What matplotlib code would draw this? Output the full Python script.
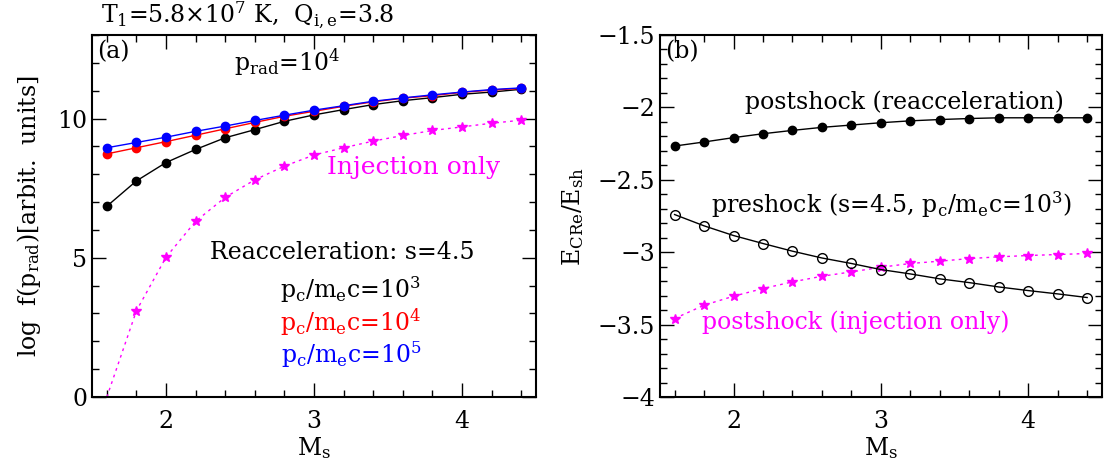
import matplotlib.pyplot as plt
from matplotlib.ticker import MultipleLocator

plt.rcParams['font.family'] = 'DejaVu Serif'
plt.rcParams['mathtext.fontset'] = 'dejavuserif'

# Mach numbers
mach = [1.6, 1.8, 2.0, 2.2, 2.4, 2.6, 2.8, 3.0, 3.2, 3.4, 3.6, 3.8, 4.0, 4.2, 4.4]

# panel (a): log f(p_rad)
f_pc3 = [6.85, 7.76, 8.42, 8.89, 9.31, 9.6, 9.9, 10.13, 10.32, 10.5, 10.64, 10.75, 10.87, 10.95, 11.05]
f_pc4 = [8.73, 8.95, 9.17, 9.4, 9.63, 9.86, 10.08, 10.26, 10.44, 10.6, 10.73, 10.82, 10.94, 11.02, 11.08]
f_pc5 = [8.95, 9.14, 9.33, 9.54, 9.73, 9.93, 10.12, 10.3, 10.46, 10.62, 10.74, 10.85, 10.95, 11.04, 11.1]
f_inj = [0.0, 3.1, 5.02, 6.31, 7.17, 7.8, 8.29, 8.69, 8.95, 9.19, 9.39, 9.57, 9.7, 9.83, 9.94]

# panel (b): log E_CRe / E_sh
e_post = [-2.267, -2.239, -2.209, -2.182, -2.159, -2.138, -2.122, -2.106, -2.093, -2.084,
          -2.077, -2.072, -2.072, -2.072, -2.072]
e_pre = [-2.74, -2.818, -2.885, -2.94, -2.993, -3.04, -3.078, -3.12, -3.15, -3.184,
         -3.21, -3.24, -3.265, -3.288, -3.313]
e_inj = [-3.458, -3.366, -3.304, -3.251, -3.205, -3.166, -3.136, -3.104, -3.078, -3.062,
         -3.044, -3.032, -3.023, -3.016, -3.009]

FS = 17
dots = (0, (2, 3))

fig = plt.figure(figsize=(11.09, 4.63), dpi=100)
ax1 = fig.add_axes([0.083, 0.1425, 0.4004, 0.782])
ax2 = fig.add_axes([0.595, 0.1425, 0.3986, 0.782])


def style_axes(ax):
    ax.set_xlim(1.5, 4.5)
    ax.xaxis.set_major_locator(MultipleLocator(1))
    ax.xaxis.set_minor_locator(MultipleLocator(0.2))
    ax.tick_params(which='both', direction='in', top=True, right=True, labelsize=FS)
    ax.tick_params(which='major', length=10, width=1)
    ax.tick_params(which='minor', length=5, width=1)
    ax.tick_params(axis='x', pad=9)
    for s in ax.spines.values():
        s.set_linewidth(1.5)
    ax.set_xlabel(r'M$_{\rm s}$', fontsize=FS, labelpad=2)


ax1.plot(mach, f_inj, color='magenta', ls=dots, lw=1, marker='*', ms=7,
         markevery=slice(1, None))
ax1.plot(mach, f_pc3, color='black', lw=1, marker='o', ms=6)
ax1.plot(mach, f_pc4, color='red', lw=1, marker='o', ms=6)
ax1.plot(mach, f_pc5, color='blue', lw=1, marker='o', ms=6)
style_axes(ax1)
ax1.set_ylim(0, 13)
ax1.yaxis.set_major_locator(MultipleLocator(5))
ax1.yaxis.set_minor_locator(MultipleLocator(1))
ax1.set_ylabel(r'log  f(p$_{\rm rad}$)[arbit.  units]', fontsize=FS, labelpad=10)
ax1.text(0.02, 1.01, r'T$_1$=5.8$\times$10$^7$ K,  Q$_{\rm i,e}$=3.8', transform=ax1.transAxes,
         fontsize=FS, ha='left', va='bottom')
ax1.text(0.011, 0.985, '(a)', transform=ax1.transAxes, fontsize=FS, va='top')
ax1.text(0.44, 0.925, r'p$_{\rm rad}$=10$^4$', transform=ax1.transAxes, fontsize=FS, ha='center', va='center')
ax1.text(0.723, 0.633, 'Injection only', transform=ax1.transAxes, fontsize=FS + 1, color='magenta',
         ha='center', va='center')
ax1.text(0.563, 0.40, 'Reacceleration: s=4.5', transform=ax1.transAxes, fontsize=FS, ha='center', va='center')
labels = [(r'p$_{\rm c}$/m$_{\rm e}$c=10$^3$', 'black', 0.296),
          (r'p$_{\rm c}$/m$_{\rm e}$c=10$^4$', 'red', 0.207),
          (r'p$_{\rm c}$/m$_{\rm e}$c=10$^5$', 'blue', 0.116)]
for txt, col, yy in labels:
    ax1.text(0.583, yy, txt, transform=ax1.transAxes, fontsize=FS, color=col, ha='center', va='center')

ax2.plot(mach, e_inj, color='magenta', ls=dots, lw=1, marker='*', ms=7)
ax2.plot(mach, e_post, color='black', lw=1, marker='o', ms=6)
ax2.plot(mach, e_pre, color='black', lw=1, marker='o', ms=7, mfc='none')
style_axes(ax2)
ax2.set_ylim(-4, -1.5)
ax2.yaxis.set_major_locator(MultipleLocator(0.5))
ax2.yaxis.set_minor_locator(MultipleLocator(0.1))
ax2.yaxis.set_major_formatter(lambda v, p: f'{v:g}'.replace('-', '\u2212'))
ax2.set_ylabel(r'E$_{\rm CRe}$/E$_{\rm sh}$', fontsize=FS, labelpad=8)
ax2.text(0.011, 0.985, '(b)', transform=ax2.transAxes, fontsize=FS, va='top')
ax2.text(0.554, 0.815, 'postshock (reacceleration)', transform=ax2.transAxes, fontsize=FS,
         ha='center', va='center')
ax2.text(0.525, 0.53, r'preshock (s=4.5, p$_{\rm c}$/m$_{\rm e}$c=10$^3$)', transform=ax2.transAxes,
         fontsize=FS, ha='center', va='center')
ax2.text(0.443, 0.207, 'postshock (injection only)', transform=ax2.transAxes, fontsize=FS,
         color='magenta', ha='center', va='center')

fig.savefig('out.png', dpi=100)
